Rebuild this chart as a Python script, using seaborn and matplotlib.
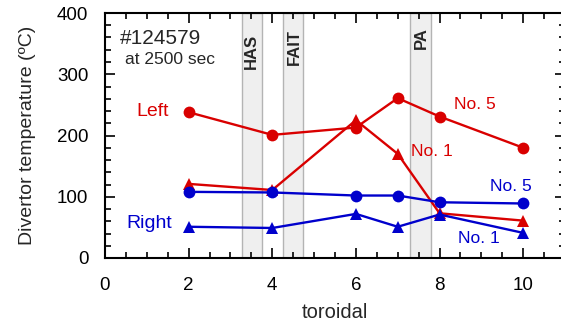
import numpy as np
import pandas as pd
import matplotlib
matplotlib.use("Agg")
import matplotlib.pyplot as plt
import seaborn as sns
from matplotlib.ticker import MultipleLocator

sns.set_style("ticks")
plt.rcParams['font.family'] = ['Liberation Sans', 'DejaVu Sans']

# data
toroidal = [2, 4, 6, 7, 8, 10]
left_no5 = [238, 201, 213, 261, 231, 180]
left_no1 = [121, 111, 225, 170, 73, 61]
right_no5 = [108, 107, 102, 102, 91, 89]
right_no1 = [51, 49, 72, 51, 71, 41]

bands = [("HAS", 3.27, 3.76), ("FAIT", 4.26, 4.74), ("PA", 7.30, 7.80)]

red = "#d90000"
blue = "#0000cc"

fig = plt.figure(figsize=(5.61, 3.28), dpi=100)
ax = fig.add_axes([105/561, 70/328, 460/561, 245/328])

for name, a, b in bands:
    ax.axvspan(a, b, facecolor="#efefef", edgecolor="#b4b4b4", linewidth=1.0, zorder=0)

series = [
    (left_no5, red, "o"),
    (left_no1, red, "^"),
    (right_no5, blue, "o"),
    (right_no1, blue, "^"),
]
for vals, c, m in series:
    df = pd.DataFrame({"x": toroidal, "y": vals})
    sns.lineplot(data=df, x="x", y="y", ax=ax, color=c, marker=m, markersize=8.5,
                 markeredgewidth=0, linewidth=1.7, zorder=3)

ax.set_xlim(0, 11)
ax.set_ylim(0, 400)
ax.xaxis.set_major_locator(MultipleLocator(2))
ax.xaxis.set_minor_locator(MultipleLocator(0.5))
ax.yaxis.set_major_locator(MultipleLocator(100))
ax.yaxis.set_minor_locator(MultipleLocator(20))
ax.tick_params(which="both", direction="in", top=True, right=True, labelsize=13.5, colors="black")
ax.tick_params(which="major", length=7, width=1.2, pad=12)
ax.tick_params(axis="x", which="major", pad=14)
ax.tick_params(which="minor", length=4, width=1.2)
for s in ax.spines.values():
    s.set_linewidth(1.5)
    s.set_color("black")
    s.set_visible(True)

ax.set_xlabel("toroidal", fontsize=14.5, labelpad=6)
ax.set_ylabel("Divertor temperature (ºC)", fontsize=14, labelpad=15)

ax.text(0.36, 358, "#124579", fontsize=15, ha="left", va="center")
ax.text(0.48, 324, "at 2500 sec", fontsize=12.5, ha="left", va="center")
ax.text(1.14, 240, "Left", fontsize=14, color=red, ha="center", va="center")
ax.text(1.05, 57, "Right", fontsize=14, color=blue, ha="center", va="center")
ax.text(8.85, 250, "No. 5", fontsize=12.5, color=red, ha="center", va="center")
ax.text(7.82, 174, "No. 1", fontsize=12.5, color=red, ha="center", va="center")
ax.text(9.71, 116, "No. 5", fontsize=12.5, color=blue, ha="center", va="center")
ax.text(8.93, 32, "No. 1", fontsize=12.5, color=blue, ha="center", va="center")

label_pos = {"HAS": (3.51, 338), "FAIT": (4.53, 344), "PA": (7.57, 359)}
for name, a, b in bands:
    x, y = label_pos[name]
    ax.text(x, y, name, fontsize=12, fontweight="bold", rotation=90, ha="center", va="center")

fig.savefig("out.png", dpi=100)
